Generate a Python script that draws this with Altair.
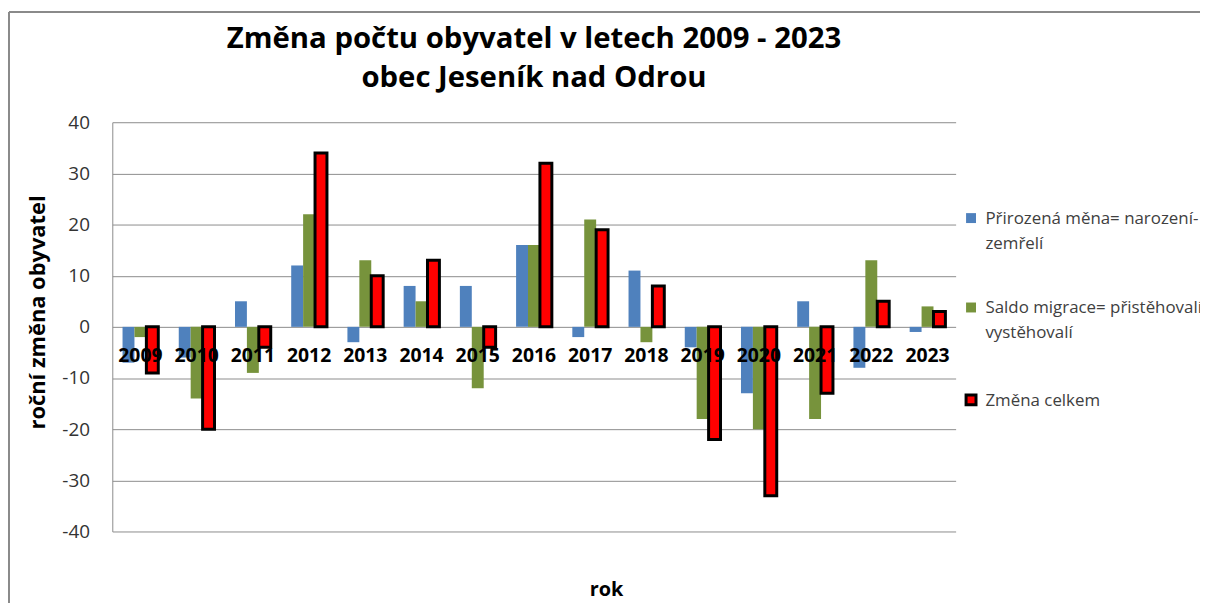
import altair as alt
import pandas as pd

FONT = "Open Sans"

years = [str(y) for y in range(2009, 2024)]
prirozena = [-7, -6, 5, 12, -3, 8, 8, 16, -2, 11, -4, -13, 5, -8, -1]
saldo = [-2, -14, -9, 22, 13, 5, -12, 16, 21, -3, -18, -20, -18, 13, 4]
celkem = [-9, -20, -4, 34, 10, 13, -4, 32, 19, 8, -22, -33, -13, 5, 3]
series = [
    "Přirozená měna= narození-|zemřelí",
    "Saldo migrace= přistěhovalí-|vystěhovalí",
    "Změna celkem",
]
fill_colors = ["#4F81BD", "#77933C", "#FF0000"]
stroke_colors = ["#4F81BD", "#77933C", "#000000"]
stroke_widths = [0, 0, 3]
y_ticks = [-40, -30, -20, -10, 0, 10, 20, 30, 40]

rows = []
for s, vals in zip(series, [prirozena, saldo, celkem]):
    for yr, v in zip(years, vals):
        rows.append({"rok": yr, "rada": s, "hodnota": v})
df = pd.DataFrame(rows)
labels_df = pd.DataFrame({"rok": years, "nula": [0] * len(years)})
one = pd.DataFrame({"a": [0]})

legend = alt.Legend(
    title=None, orient="none", legendX=856, legendY=94, padding=0,
    labelFont=FONT, labelFontSize=17, labelColor="#404040", labelLimit=400,
    labelExpr="split(datum.label, '|')", labelBaseline="alphabetic",
    symbolType="M-1,-2.2H1V-0.2H-1Z", symbolSize=100, rowPadding=47,
    labelOffset=6,
)

x_enc = alt.X(
    "rok:N",
    scale=alt.Scale(paddingInner=0.364, paddingOuter=0.182),
    axis=alt.Axis(
        labels=False, ticks=False, domain=False, grid=False, title="rok",
        titleFont=FONT, titleFontSize=20, titleFontWeight="bold", titleColor="black",
        titleX=497, titleY=64, titleAlign="center", titleBaseline="alphabetic",
    ),
)
y_enc = alt.Y(
    "hodnota:Q",
    scale=alt.Scale(domain=[-40, 40], nice=False),
    axis=alt.Axis(
        values=y_ticks, grid=True, gridColor="#8c8c8c", gridWidth=1,
        domainColor="#8c8c8c", ticks=False, labelPadding=23,
        labelExpr="toString(datum.value)",
        labelFont=FONT, labelFontSize=19, labelColor="#333333",
        title="roční změna obyvatel", titleFont=FONT, titleFontSize=22,
        titleFontWeight="bold", titleColor="black", titlePadding=12, titleY=191,
    ),
)

bars = alt.Chart(df).mark_bar().encode(
    x=x_enc,
    y=y_enc,
    xOffset=alt.XOffset("rada:N", sort=series, scale=alt.Scale(domain=series, paddingInner=0, paddingOuter=0)),
    fill=alt.Fill("rada:N", scale=alt.Scale(domain=series, range=fill_colors), legend=legend),
    stroke=alt.Stroke("rada:N", scale=alt.Scale(domain=series, range=stroke_colors), legend=legend),
    strokeWidth=alt.StrokeWidth("rada:N", scale=alt.Scale(type="ordinal", domain=series, range=stroke_widths), legend=legend),
)

year_text = alt.Chart(labels_df).mark_text(
    font=FONT, fontSize=19.5, fontWeight="bold", color="black", dy=29
).encode(x=alt.X("rok:N"), y=alt.Y("nula:Q"), text=alt.Text("rok:N"))

frame_v = alt.Chart(one).mark_rule(color="#8a8a8a", strokeWidth=2).encode(
    x=alt.value(-104), y=alt.value(-111), y2=alt.value(600)
)
frame_h = alt.Chart(one).mark_rule(color="#8a8a8a", strokeWidth=2).encode(
    x=alt.value(-104), x2=alt.value(1200), y=alt.value(-111)
)

chart = alt.layer(frame_v, frame_h, bars, year_text).properties(
    width=849, height=412,
    autosize=alt.AutoSizeParams(type="none"),
    padding={"left": 105, "top": 113, "right": 246, "bottom": 70},
    title=alt.TitleParams(
        text=["Změna počtu obyvatel v letech 2009 - 2023", "obec Jeseník nad Odrou"],
        font=FONT, fontSize=29.5, fontWeight="bold", color="black",
        anchor="middle", frame="group", baseline="bottom", offset=0, dy=112, lineHeight=39,
    ),
).configure(
    style={"guide-label": {"lineHeight": 25}}
).configure_view(stroke=None).properties(background="white")

chart.save("out.html", embed_options={"renderer": "svg", "actions": False})
